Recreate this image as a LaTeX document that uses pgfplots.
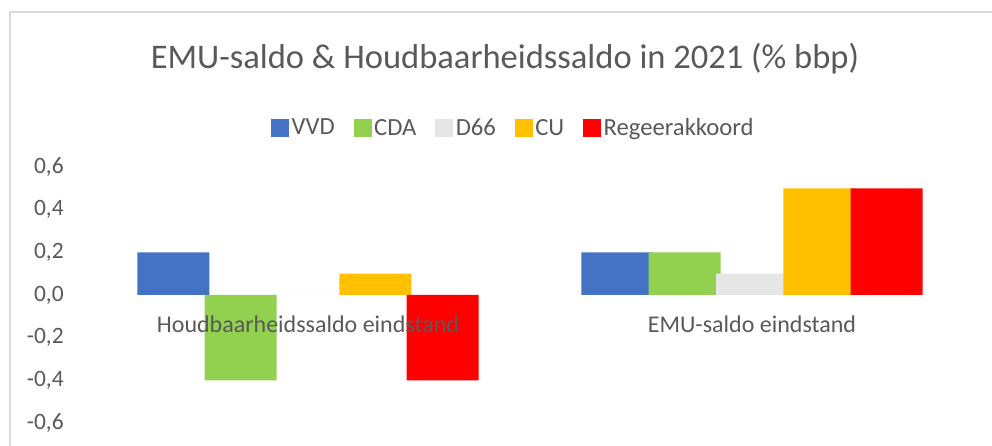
\documentclass[border=0pt]{standalone}
\usepackage{fontspec}
\setmainfont{Carlito}
\usepackage{pgfplots}
\pgfplotsset{compat=1.18}
\definecolor{cVVD}{HTML}{4472C4}
\definecolor{cCDA}{HTML}{92D050}
\definecolor{cD66}{HTML}{E7E6E6}
\definecolor{cCU}{HTML}{FFC000}
\definecolor{cRA}{HTML}{FF0000}
\definecolor{textgray}{HTML}{595959}
\definecolor{bordergray}{HTML}{D9D9D9}
\begin{document}
\begin{tikzpicture}
\useasboundingbox (0,0) rectangle (744pt,334.5pt);
\draw[color=bordergray, line width=1.1pt] (7.5pt,0pt) -- (7.5pt,325.5pt) -- (744pt,325.5pt);
\begin{axis}[
  at={(64.5pt,17.25pt)}, anchor=south west,
  scale only axis, width=666pt, height=192pt,
  xmin=-0.5, xmax=1.5, ymin=-0.6, ymax=0.6,
  ybar=-3.5pt, bar width=54pt,
  axis on top,
  axis x line=middle, axis y line=left,
  axis line style={draw=none},
  major tick length=0pt,
  xtick={0,1},
  xticklabels={Houdbaarheidssaldo eindstand, EMU-saldo eindstand},
  xticklabel style={anchor=base, yshift=-28.5pt, font=\fontsize{18pt}{20pt}\selectfont, text=textgray},
  ytick={-0.6,-0.4,-0.2,0,0.2,0.4,0.6},
  yticklabel style={anchor=east, inner sep=0pt, xshift=-16.5pt, font=\fontsize{17.6pt}{20pt}\selectfont, text=textgray,
    /pgf/number format/.cd, fixed, fixed zerofill, precision=1, use comma, assume math mode=true},
  legend columns=5,
  legend style={at={(0.4815,1.152)}, anchor=center, draw=none, fill=none,
    font=\fontsize{18.5pt}{20pt}\selectfont, text=textgray,
    /tikz/every even column/.append style={column sep=12pt}},
  legend image code/.code={\fill[#1] (0pt,-6.75pt) rectangle (13.5pt,6.75pt);},
  clip=false,
]
\addplot[fill=cVVD, draw=none] coordinates {(0,0.2) (1,0.2)};
\addplot[fill=cCDA, draw=none] coordinates {(0,-0.4) (1,0.2)};
\addplot[fill=cD66, draw=none] coordinates {(0,0) (1,0.1)};
\addplot[fill=cCU, draw=none] coordinates {(0,0.1) (1,0.5)};
\addplot[fill=cRA, draw=none] coordinates {(0,-0.4) (1,0.5)};
\legend{VVD, CDA, D66, CU, Regeerakkoord}
\end{axis}
\node[anchor=base, font=\fontsize{25.9pt}{30pt}\selectfont, text=textgray] at (378.75pt,282.75pt) {EMU-saldo \& Houdbaarheidssaldo in 2021 (\% bbp)};
\end{tikzpicture}
\end{document}
